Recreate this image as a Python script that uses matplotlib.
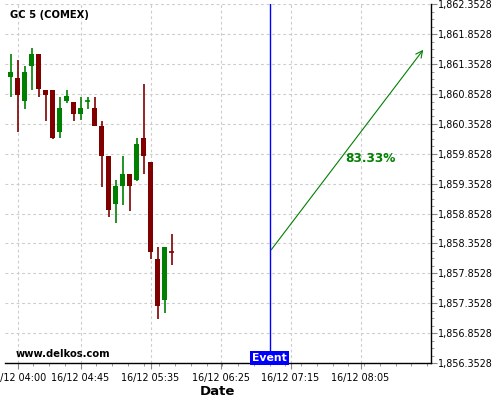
import matplotlib
matplotlib.use("Agg")
import matplotlib.pyplot as plt
import matplotlib.dates as mdates
from matplotlib.ticker import FuncFormatter, AutoMinorLocator, FixedLocator
import numpy as np
import pandas as pd

# 5 minute candles, 16/12 03:55 -> 05:50
times = pd.date_range("2019-12-16 03:55", periods=24, freq="5min")
opens = [1861.13, 1861.12, 1860.73, 1861.33, 1861.53, 1860.92, 1860.92, 1860.22,
         1860.73, 1860.72, 1860.52, 1860.74, 1860.62, 1860.32, 1859.81, 1859.01,
         1859.31, 1859.51, 1859.42, 1860.12, 1859.71, 1858.10, 1857.40, 1858.21]
highs = [1861.52, 1861.42, 1861.32, 1861.62, 1861.53, 1860.92, 1860.92, 1860.81,
         1860.92, 1860.72, 1860.81, 1860.81, 1860.81, 1860.41, 1859.81, 1859.41,
         1859.81, 1859.51, 1860.11, 1861.02, 1859.71, 1858.30, 1858.30, 1858.51]
lows = [1860.81, 1860.21, 1860.61, 1860.92, 1860.81, 1860.41, 1860.10, 1860.11,
        1860.71, 1860.41, 1860.42, 1860.61, 1860.31, 1859.30, 1858.80, 1858.70,
        1859.00, 1858.90, 1859.40, 1859.51, 1858.09, 1857.09, 1857.19, 1858.00]
closes = [1861.22, 1860.83, 1861.22, 1861.53, 1860.93, 1860.83, 1860.12, 1860.62,
          1860.82, 1860.52, 1860.62, 1860.74, 1860.32, 1859.82, 1858.91, 1859.31,
          1859.51, 1859.32, 1860.02, 1859.82, 1858.21, 1857.30, 1858.30, 1858.21]
doji_up = [11]  # flat candle drawn green

event_time = pd.Timestamp("2019-12-16 07:00")
target_time = pd.Timestamp("2019-12-16 08:51")
target_price = 1861.63
prob_label = "83.33%"

tick_times = ["04:00", "04:45", "05:35", "06:25", "07:15", "08:05"]
y_ticks = 1856.3528 + 0.5 * np.arange(13)

up_col = "#008000"
down_col = "#800000"

fig = plt.figure(figsize=(5, 4), dpi=100)
ax = fig.add_axes([0.01, 0.0925, 0.851, 0.8965])

x = mdates.date2num(times)
w = 3.6 / 1440.0
for i in range(len(x)):
    o, h, l, c = opens[i], highs[i], lows[i], closes[i]
    up = c > o or i in doji_up
    col = up_col if up else down_col
    ax.vlines(x[i], l, h, color=col, linewidth=1.2, zorder=3)
    lo, hi = min(o, c), max(o, c)
    if hi - lo < 0.02:
        ax.hlines(o, x[i] - w / 2, x[i] + w / 2, color=col, linewidth=1.2, zorder=3)
    else:
        ax.bar(x[i], hi - lo, width=w, bottom=lo, color=col, zorder=3)

ex = mdates.date2num(event_time)
ax.axvline(ex, color="#0000ff", linewidth=1, zorder=4)
ax.annotate("", xy=(mdates.date2num(target_time), target_price),
            xytext=(ex, closes[-1]),
            arrowprops=dict(arrowstyle="->", color="#008000", lw=0.8,
                            mutation_scale=12), zorder=4)
ax.text(mdates.date2num(pd.Timestamp("2019-12-16 08:12")), 1859.78, prob_label,
        color="#008000", fontsize=8.7, fontweight="bold", ha="center", va="center")

ax.text(ex, 1856.355, "Event", color="white", fontsize=7.8, fontweight="bold",
        ha="center", va="bottom", zorder=5,
        bbox=dict(boxstyle="square,pad=0.2", fc="#0000ff", ec="none"))

ax.text(0.012, 0.97, "GC 5 (COMEX)", transform=ax.transAxes, fontsize=7.2,
        fontweight="bold", ha="left", va="center")
ax.text(0.024, 0.025, "www.delkos.com", transform=ax.transAxes, fontsize=7.2,
        fontweight="bold", ha="left", va="center")

ax.set_xlim(mdates.date2num(pd.Timestamp("2019-12-16 03:51")),
            mdates.date2num(pd.Timestamp("2019-12-16 08:55")))
ax.set_ylim(1856.3528, 1862.3528)

major_x = mdates.date2num([pd.Timestamp("2019-12-16 " + t) for t in tick_times])
ax.xaxis.set_major_locator(FixedLocator(major_x))
ax.xaxis.set_major_formatter(mdates.DateFormatter("%d/%m %H:%M"))
ax.xaxis.set_minor_locator(AutoMinorLocator(4))
ax.yaxis.set_major_locator(FixedLocator(y_ticks))
ax.yaxis.set_major_formatter(FuncFormatter(lambda v, p: "{:,.4f}".format(v)))
ax.yaxis.set_minor_locator(AutoMinorLocator(4))
ax.yaxis.tick_right()

ax.tick_params(axis="both", which="major", labelsize=6.9, length=4, color="#888888")
ax.tick_params(axis="both", which="minor", length=2, color="#888888")
ax.tick_params(axis="y", pad=1)

for s in ["top", "left"]:
    ax.spines[s].set_visible(False)
ax.spines["right"].set_linewidth(1)
ax.spines["bottom"].set_linewidth(1)

ax.grid(True, which="major", color="#cccccc", linestyle=(0, (2.5, 2.5)), linewidth=0.8)
ax.set_axisbelow(True)

ax.set_xlabel("Date", fontsize=9.5, fontweight="bold", labelpad=1)

fig.savefig("out.png", dpi=100)
